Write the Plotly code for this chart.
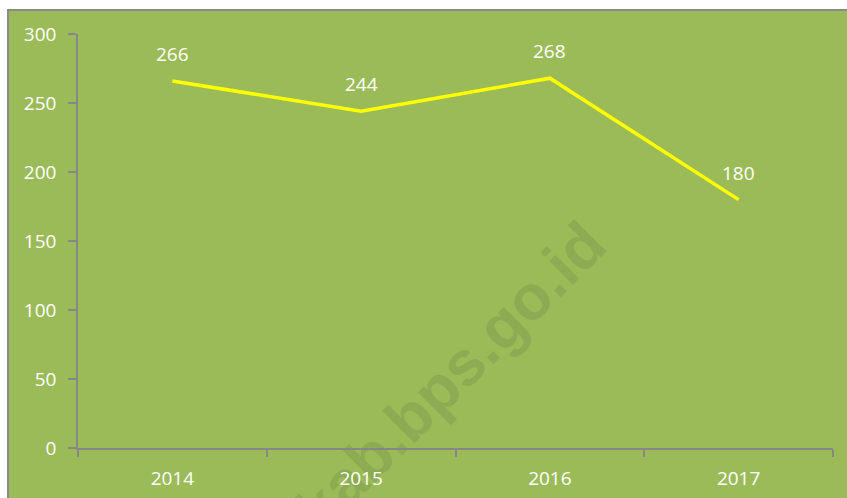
import plotly.graph_objects as go

years = ["2014", "2015", "2016", "2017"]
values = [266, 244, 268, 180]
y_ticks = [0, 50, 100, 150, 200, 250, 300]

W, H = 847, 498
L, R, T, B = 78, 14, 34, 50
pw, ph = W - L - R, H - T - B

def px(x):
    return (x - L) / pw

def py(y):
    return (H - B - y) / ph

green = "#9BBB59"
axis_gray = "#878787"
font_family = "Open Sans, Noto Sans, sans-serif"

fig = go.Figure()
fig.add_trace(go.Scatter(
    x=years, y=values, mode="lines",
    line=dict(color="#FFFF00", width=3.5),
    hoverinfo="skip", showlegend=False,
))

annotations = []
for i, v in enumerate(values):
    annotations.append(dict(
        x=i, y=v, xref="x", yref="y", text=str(v), showarrow=False, yshift=27,
        xanchor="center", yanchor="middle",
        font=dict(family=font_family, size=19, color="white"),
    ))

wx, wy = 446, 372
fig.update_layout(
    width=W, height=H,
    margin=dict(l=L, r=R, t=T, b=B, pad=0, autoexpand=False),
    paper_bgcolor="white",
    plot_bgcolor="rgba(0,0,0,0)",
    annotations=annotations,
    shapes=[
        dict(
            type="rect", xref="paper", yref="paper", layer="below",
            x0=px(8), x1=px(852), y0=py(10), y1=py(505),
            fillcolor=green, line=dict(color="#8A8A8A", width=2),
        ),
        dict(
            type="rect", xref="paper", yref="paper", layer="below",
            x0=px(wx - 2), x1=px(wx + 2), y0=py(wy + 2), y1=py(wy - 2),
            fillcolor="rgba(0,0,0,0)", line=dict(width=0, color="rgba(0,0,0,0)"),
            label=dict(
                text="kab.bps.go.id", textangle=-45, textposition="middle center",
                xanchor="center", yanchor="middle",
                font=dict(family="Liberation Sans, Arial, sans-serif", size=63,
                          color="#8DAB52", weight="bold"),
            ),
        ),
    ],
    xaxis=dict(
        type="category", range=[-0.5, 3.5], automargin=False,
        showgrid=False, zeroline=False,
        showline=True, linecolor=axis_gray, linewidth=1.5,
        ticks="outside", tickson="boundaries", ticklen=7, tickcolor=axis_gray, tickwidth=1.5,
        tickfont=dict(family=font_family, size=19, color="white"),
        ticklabelstandoff=12,
    ),
    yaxis=dict(
        range=[0, 300], tickvals=y_ticks, automargin=False,
        showgrid=False, zeroline=False,
        showline=True, linecolor=axis_gray, linewidth=1.5,
        ticks="outside", ticklen=8, tickcolor=axis_gray, tickwidth=1.5,
        tickfont=dict(family=font_family, size=19, color="white"),
        ticklabelstandoff=8,
    ),
)

fig.write_html("out.html", config={"displayModeBar": False},
               post_script="document.body.style.margin='0';")
